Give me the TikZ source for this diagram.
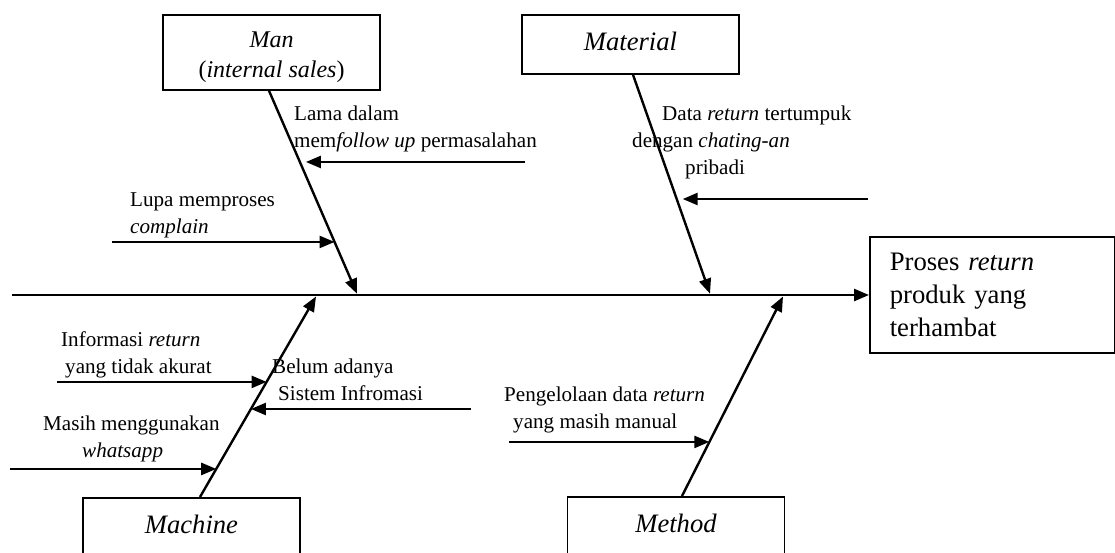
\documentclass[tikz,border=0pt]{standalone}
\usepackage{fontspec}
\setmainfont{Liberation Serif}
\usetikzlibrary{arrows.meta,calc}

\begin{document}
\begin{tikzpicture}[x=1pt,y=-1pt,
  causebox/.style={draw, line width=1.5pt, minimum width=217pt, inner sep=0pt,
    font=\fontsize{26.6}{30}\selectfont},
  lowbox/.style={causebox, anchor=north, text height=18pt, text depth=30pt, inner ysep=18pt},
  causetext/.style={anchor=base west, align=left, inner sep=0pt,
    font=\fontsize{21.1}{27}\selectfont},
  tip/.style={-{Triangle[length=15pt,width=12pt]}},
  spine/.style={line width=2.6pt, tip},
  bone/.style={line width=2.4pt, tip},
  sub/.style={line width=2.4pt, tip},
]
\useasboundingbox (0,0) rectangle (1115,552);

% effect
\node[draw, line width=1.5pt, anchor=west, text width=205pt, inner xsep=20pt, inner ysep=0pt,
  minimum height=116pt, align=left, font=\fontsize{26.7}{33}\selectfont]
  (effect) at (869,295) {Proses \textit{return}\\produk yang\\terhambat};

% cause categories
\node[causebox, font=\fontsize{24}{30}\selectfont, minimum height=75pt, align=center]
  (man) at (271.5,52.5) {\rule{0pt}{26pt}\textit{Man}\\(\textit{internal sales})};
\node[causebox, minimum height=59pt, text height=18pt, text depth=7pt]
  (material) at (630.5,44.5) {\textit{Material}};
\node[lowbox] (machine) at (191.5,497) {\textit{Machine}};
\node[lowbox] (method) at (676,496) {\textit{Method}};

% spine
\coordinate (spinestart) at (12,295);
\draw[spine] (spinestart) -- (effect.west);

% bones
\coordinate (manroot) at ([xshift=-2.5pt]man.south);
\coordinate (matroot) at ([xshift=2.5pt]material.south);
\coordinate (machroot) at ([xshift=8.5pt]machine.north);
\coordinate (methroot) at ([xshift=6pt]method.north);
\coordinate (mantip) at (357,293.7);
\coordinate (mattip) at (710,293.7);
\coordinate (machtip) at (316,296.5);
\coordinate (methtip) at (783,296.5);
\draw[bone] (manroot) -- (mantip);
\draw[bone] (matroot) -- (mattip);
\draw[bone] (machroot) -- (machtip);
\draw[bone] (methroot) -- (methtip);

% causes (each placed at the baseline of its last line)
\node[causetext] (lama) at (294,147.5) {Lama dalam\\mem\textit{follow up} permasalahan};
\node[causetext] (data) at (632,174) {\hspace*{30pt}Data \textit{return} tertumpuk\\dengan \textit{chating-an}\\\hspace*{53pt}pribadi};
\node[causetext] (lupa) at (130,233) {Lupa memproses\\\textit{complain}};
\node[causetext] (info) at (61,373) {Informasi \textit{return}\\\hspace*{4pt}yang tidak akurat};
\node[causetext] (belum) at (272,400.5) {Belum adanya\\\hspace*{6pt}Sistem Infromasi};
\node[causetext] (masih) at (43,457) {Masih menggunakan\\\hspace*{39pt}\textit{whatsapp}};
\node[causetext] (kelola) at (504,428.5) {Pengelolaan data \textit{return}\\\hspace*{9pt}yang masih manual};

% cause arrows
\coordinate (lamatip) at ($(manroot)!0.351!(mantip)$);
\coordinate (lupatip) at ($(manroot)!0.745!(mantip)$);
\coordinate (datatip) at ($(matroot)!0.5675!(mattip)$);
\coordinate (infotip) at ($(machroot)!0.574!(machtip)$);
\coordinate (belumtip) at ($(machroot)!0.439!(machtip)$);
\coordinate (masihtip) at ($(machroot)!0.140!(machtip)$);
\coordinate (kelolatip) at ($(methroot)!0.271!(methtip)$);
\coordinate (lamafrom) at (525,0);
\coordinate (lupafrom) at (112,0);
\coordinate (datafrom) at (868,0);
\coordinate (infofrom) at (57,0);
\coordinate (belumfrom) at (471,0);
\coordinate (masihfrom) at (10,0);
\coordinate (kelolafrom) at (509,0);
\draw[sub, shorten >=6pt] (lamatip -| lamafrom) -- (lamatip);
\draw[sub] (lupatip -| lupafrom) -- (lupatip);
\draw[sub, shorten >=6pt] (datatip -| datafrom) -- (datatip);
\draw[sub] (infotip -| infofrom) -- (infotip);
\draw[sub] (belumtip -| belumfrom) -- (belumtip);
\draw[sub] (masihtip -| masihfrom) -- (masihtip);
\draw[sub] (kelolatip -| kelolafrom) -- (kelolatip);
\end{tikzpicture}
\end{document}
